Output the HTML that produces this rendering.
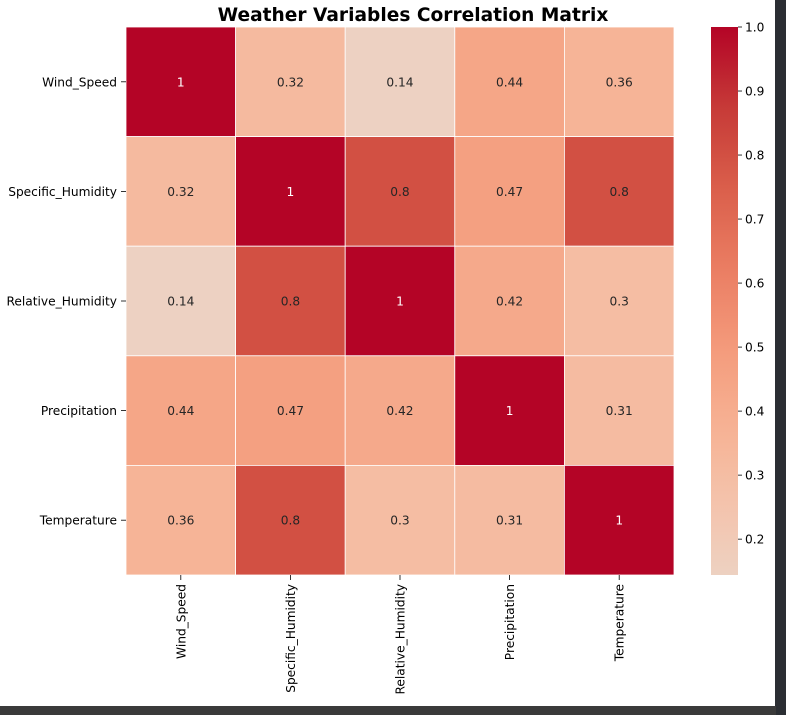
<!DOCTYPE html>
<html><head><meta charset="utf-8"><style>
body{margin:0;background:#fff;width:786px;height:715px;overflow:hidden;position:relative;font-family:"DejaVu Sans","Liberation Sans",sans-serif}
</style></head><body>
<svg id="chart" width="786" height="715" xmlns="http://www.w3.org/2000/svg" style="position:absolute;left:0;top:0;font-family:'DejaVu Sans','Liberation Sans',sans-serif">
<rect x="0" y="0" width="786" height="715" fill="#fff"/>
<rect x="775" y="0" width="11" height="715" fill="#2b2e33"/>
<rect x="0" y="706" width="776" height="9" fill="#3a3a3a"/>
<text x="413" y="21" text-anchor="middle" font-size="18.6" font-weight="bold">Weather Variables Correlation Matrix</text>
<g id="cells"></g><g id="labels"></g><g id="cbar"></g>
</svg>
<script>
const variables=["Wind_Speed","Specific_Humidity","Relative_Humidity","Precipitation","Temperature"];
const row0=[1,0.32,0.14,0.44,0.36];
const row1=[0.32,1,0.8,0.47,0.8];
const row2=[0.14,0.8,1,0.42,0.3];
const row3=[0.44,0.47,0.42,1,0.31];
const row4=[0.36,0.8,0.3,0.31,1];
const matrix=[row0,row1,row2,row3,row4];
const cbarTicks=[0.2,0.3,0.4,0.5,0.6,0.7,0.8,0.9,1.0];
const vmin=0.144,vmax=1.0;
const NS="http://www.w3.org/2000/svg";
const X0=126,Y0=27,SIZE=548,n=variables.length,cw=SIZE/n;
const xs=i=>X0+i*cw, ys=i=>Y0+i*cw;
const stops=[[0.5,[221,221,221]],[0.5625,[236,211,197]],[0.625,[244,196,173]],[0.6875,[246,178,148]],[0.75,[244,154,123]],[0.8125,[234,125,98]],[0.875,[218,94,75]],[0.9375,[198,58,55]],[1,[180,4,38]]];
function color(v){let t=0.5+v/2;t=Math.max(0.5,Math.min(1,t));
for(let k=1;k<stops.length;k++){if(t<=stops[k][0]){const a=stops[k-1],b=stops[k],f=(t-a[0])/(b[0]-a[0]);
return "rgb("+a[1].map((c,j)=>Math.round(c+(b[1][j]-c)*f)).join(",")+")";}}return "rgb(180,4,38)";}
function mk(tag,attrs,parent,text){const e=document.createElementNS(NS,tag);for(const k in attrs)e.setAttribute(k,attrs[k]);if(text!==undefined)e.textContent=text;parent.appendChild(e);return e;}
const cells=document.getElementById('cells'),labels=document.getElementById('labels'),cb=document.getElementById('cbar');
const FS=12.2;
matrix.forEach((row,r)=>row.forEach((v,c)=>{
const rc=mk('rect',{x:xs(c),y:ys(r),width:cw,height:cw,fill:color(v),stroke:'#fff','stroke-width':0.8},cells);


const t=mk('text',{x:xs(c)+cw/2,y:ys(r)+cw/2+4.5,'text-anchor':'middle','font-size':FS,fill:v>0.9?'#fff':'#262626'},cells,String(v));


}));
variables.forEach((name,i)=>{
const yl=mk('text',{x:117,y:ys(i)+cw/2+4.5,'text-anchor':'end','font-size':FS},labels,name);


mk('line',{x1:121,x2:126,y1:ys(i)+cw/2,y2:ys(i)+cw/2,stroke:'#000','stroke-width':0.8},labels);
const cx=xs(i)+cw/2;
mk('line',{x1:cx,x2:cx,y1:575,y2:580,stroke:'#000','stroke-width':0.8},labels);
const xl=mk('text',{x:0,y:0,'text-anchor':'end','font-size':FS,transform:'translate('+(cx+4.5)+',584) rotate(-90)'},labels,name);


});
const CBX=711,CBW=27,CBT=27,CBB=575;
const cy=v=>CBB-(v-vmin)/(vmax-vmin)*(CBB-CBT);
const grad=mk('linearGradient',{id:'g',x1:0,y1:1,x2:0,y2:0},mk('defs',{},cb));
for(let k=0;k<=20;k++){const v=vmin+(vmax-vmin)*k/20;mk('stop',{offset:(k/20),'stop-color':color(v)},grad);}
const bar=mk('rect',{x:CBX,y:CBT,width:CBW,height:CBB-CBT,fill:'url(#g)'},cb);


cbarTicks.forEach(v=>{const y=cy(v);
mk('line',{x1:CBX+CBW,x2:CBX+CBW+4,y1:y,y2:y,stroke:'#000','stroke-width':0.8},cb);
const t=mk('text',{x:CBX+CBW+7,y:y+4.5,'font-size':FS},cb,v.toFixed(1));


});
</script>
</body></html>
